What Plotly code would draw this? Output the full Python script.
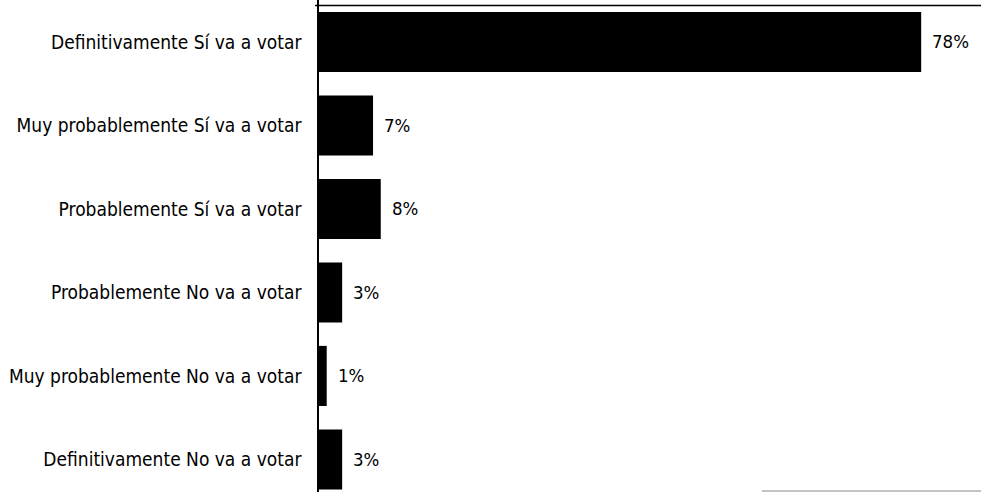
import plotly.graph_objects as go

categories = [
    "Definitivamente Sí va a votar",
    "Muy probablemente Sí va a votar",
    "Probablemente Sí va a votar",
    "Probablemente No va a votar",
    "Muy probablemente No va a votar",
    "Definitivamente No va a votar",
]
values = [78, 7, 8, 3, 1, 3]
value_labels = [f"{v}%" for v in values]

FONT = "Liberation Sans Narrow, DejaVu Sans Condensed, Arial Narrow, sans-serif"

fig = go.Figure(
    go.Bar(
        x=values,
        y=categories,
        orientation="h",
        marker=dict(color="black", line=dict(width=0)),
        width=0.72,
        hoverinfo="x+y",
    )
)

annotations = [
    dict(x=v, y=c, xref="x", yref="y", text=t, showarrow=False,
         xanchor="left", yanchor="middle", xshift=9,
         font=dict(family=FONT, size=18.5, color="black"))
    for c, v, t in zip(categories, values, value_labels)
]

fig.update_layout(
    width=981,
    height=492,
    margin=dict(l=319, r=0, t=0, b=0),
    plot_bgcolor="white",
    paper_bgcolor="white",
    showlegend=False,
    xaxis=dict(range=[0, 85.75], visible=False, showgrid=False),
    yaxis=dict(
        type="category",
        range=[5.39, -0.503],
        showgrid=False,
        showline=True,
        linecolor="black",
        linewidth=1.5,
        ticks="",
        ticklabelstandoff=12,
        tickfont=dict(family=FONT, size=19, color="black"),
    ),
    annotations=annotations,
    shapes=[
        dict(type="line", xref="paper", yref="paper", x0=-0.006, x1=1, y0=0.989, y1=0.989,
             line=dict(color="black", width=1.5)),
        dict(type="line", xref="paper", yref="paper", x0=0.669, x1=1, y0=0.002, y1=0.002,
             line=dict(color="#888888", width=1)),
    ],
)

fig.write_html("out.html", config={"displayModeBar": False},
               post_script="document.body.style.margin='0px';")
